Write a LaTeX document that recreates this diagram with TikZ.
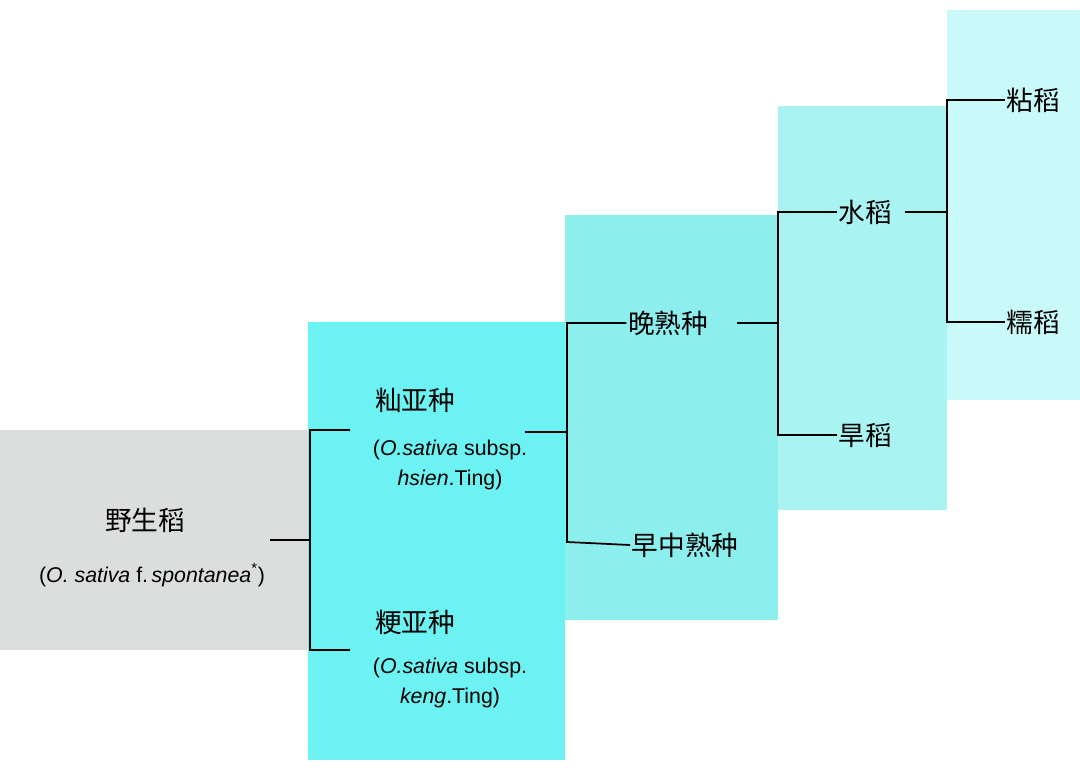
\documentclass[tikz,border=0pt]{standalone}
\usepackage{fontspec}
\setmainfont{Liberation Sans}
\newfontfamily\cjk{Noto Sans CJK SC}
\definecolor{cgray}{HTML}{DCDEDE}
\definecolor{ca}{HTML}{6CF2F2}
\definecolor{cb}{HTML}{8DEEEE}
\definecolor{cc}{HTML}{A9F3F3}
\definecolor{cd}{HTML}{C9F9F9}
\begin{document}
\begin{tikzpicture}[x=0.75pt,y=-0.75pt,
  zh/.style={font=\cjk\fontsize{20}{24}\selectfont,inner sep=1pt},
  la/.style={font=\fontsize{16}{19}\selectfont,inner sep=1pt},
  ln/.style={line width=1.3pt,black}]
\useasboundingbox (0,0) rectangle (1080,771);
\fill[cgray] (0,430) rectangle (308,650);
\fill[ca] (308,322) rectangle (565,760);
\fill[cb] (565,215) rectangle (778,620);
\fill[cc] (778,106) rectangle (947,510);
\fill[cd] (947,10) rectangle (1080,400);
\node[zh] (w) at (145,520) {野生稻};
\node[la] (wl) at (152,575) {(\textit{O. sativa} f.\,\textit{spontanea}\textsuperscript{*})};
\node[zh] (x) at (415,400) {籼亚种};
\node[la] (xl1) at (450,450) {(\textit{O.sativa} subsp.};
\node[la] (xl2) at (450,480) {\textit{hsien}.Ting)};
\node[zh] (g) at (415,622) {粳亚种};
\node[la] (gl1) at (450,668) {(\textit{O.sativa} subsp.};
\node[la] (gl2) at (450,698) {\textit{keng}.Ting)};
\node[zh] (wan) at (668,323) {晚熟种};
\node[zh] (zao) at (685,545) {早中熟种};
\node[zh] (sd) at (865,212) {水稻};
\node[zh] (hd) at (865,435) {旱稻};
\node[zh] (zd) at (1033,100) {粘稻};
\node[zh] (nd) at (1033,322) {糯稻};
\coordinate (a0) at (270,540); \coordinate (a1) at (310,540);
\coordinate (a2) at (310,430); \coordinate (a3) at (310,650);
\coordinate (a4) at (350,430); \coordinate (a5) at (350,650);
\draw[ln] (a0)--(a1) (a4)--(a2)--(a3)--(a5);
\coordinate (b0) at (525,432); \coordinate (b1) at (567,432);
\coordinate (b2) at (567,323); \coordinate (b3) at (567,542);
\draw[ln] (b0)--(b1) (wan.west)--(b2)--(b3)--(zao.west);
\coordinate (c0) at (737,323); \coordinate (c1) at (778,323);
\coordinate (c2) at (778,212); \coordinate (c3) at (778,435);
\draw[ln] (c0)--(c1) (sd.west)--(c2)--(c3)--(hd.west);
\coordinate (d0) at (905,212); \coordinate (d1) at (947,212);
\coordinate (d2) at (947,100); \coordinate (d3) at (947,322);
\draw[ln] (d0)--(d1) (zd.west)--(d2)--(d3)--(nd.west);
\end{tikzpicture}
\end{document}
